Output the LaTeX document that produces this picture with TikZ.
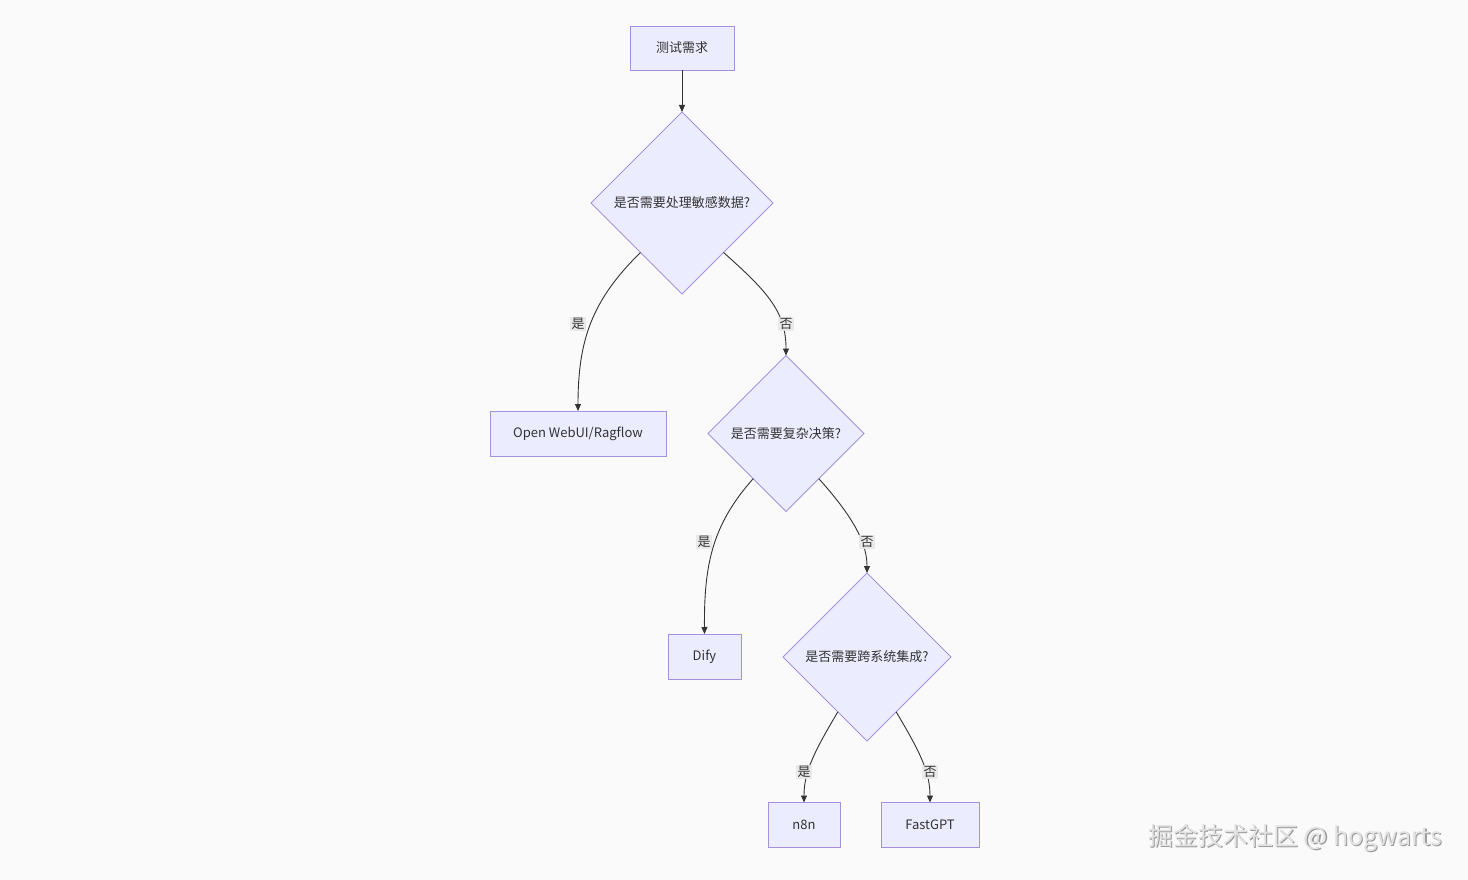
\documentclass[tikz,border=0pt]{standalone}
\usepackage{fontspec}
\setmainfont{Noto Sans CJK SC}
\usetikzlibrary{shapes.geometric,arrows.meta}
\definecolor{bgc}{HTML}{FAFAFA}
\definecolor{nodefill}{HTML}{ECECFF}
\definecolor{nodeline}{HTML}{A592DE}
\definecolor{edgec}{HTML}{333333}
\definecolor{lblbg}{HTML}{E8E8E8}
\definecolor{wmc}{HTML}{E2E2E2}
\definecolor{wmsh}{HTML}{9A9A9A}
\tikzset{
  boxnode/.style={draw=nodeline, fill=nodefill, line width=0.9pt, inner sep=0pt, outer sep=0pt,
    text=edgec, font=\fontsize{13}{15}\selectfont},
  decnode/.style={diamond, aspect=1, draw=nodeline, fill=nodefill, line width=0.9pt, inner sep=0pt,
    outer sep=0pt, text=edgec, font=\fontsize{13}{15}\selectfont},
  edge/.style={draw=edgec, line width=0.9pt, -{Triangle[length=7pt,width=6pt]}},
  lbl/.style={fill=lblbg, fill opacity=0.9, text opacity=1, text=edgec, inner sep=1.2pt,
    font=\fontsize{13}{15}\selectfont}
}
\begin{document}
\begin{tikzpicture}[x=1pt,y=-1pt]
\fill[bgc] (0,0) rectangle (1468,880);
\useasboundingbox (0,0) rectangle (1468,880);

\node[boxnode, minimum width=104pt, minimum height=44pt] (start) at (682,48) {测试需求};
\node[decnode, minimum size=182pt] (d1) at (682,203) {是否需要处理敏感数据?};
\node[boxnode, minimum width=176pt, minimum height=45pt] (open) at (578,433.5) {Open WebUI/Ragflow};
\node[decnode, minimum size=156pt] (d2) at (786,433.5) {是否需要复杂决策?};
\node[boxnode, minimum width=73pt, minimum height=45pt] (dify) at (704.5,656.5) {Dify};
\node[decnode, minimum size=168pt] (d3) at (867,657) {是否需要跨系统集成?};
\node[boxnode, minimum width=72pt, minimum height=45pt] (n8n) at (804,825) {n8n};
\node[boxnode, minimum width=98pt, minimum height=45pt] (fast) at (930,825) {FastGPT};

\draw[edge] (start) -- (d1);
\draw[edge] (d1.-130) .. controls (592,300) and (578,340) .. (open.north);
\draw[edge] (d1.-50) .. controls (768,292) and (786,312) .. (d2.north);
\draw[edge] (d2.-126) .. controls (712,525) and (704,565) .. (dify.north);
\draw[edge] (d2.-54) .. controls (856,520) and (867,545) .. (d3.north);
\draw[edge] (d3.-118) .. controls (814,752) and (804,772) .. (n8n.north);
\draw[edge] (d3.-62) .. controls (920,752) and (930,772) .. (fast.north);

\node[lbl] (l1) at (578,324) {是};
\node[lbl] (l2) at (786,324) {否};
\node[lbl] (l3) at (704,542) {是};
\node[lbl] (l4) at (867,542) {否};
\node[lbl] (l5) at (804,772) {是};
\node[lbl] (l6) at (930,772) {否};

\node[text=wmsh, font=\fontsize{25}{29}\selectfont, inner sep=0pt] (wms) at (1296.2,839.2) {掘金技术社区 @ hogwarts};
\node[text=wmc, font=\fontsize{25}{29}\selectfont, inner sep=0pt] (wm) at (1295,838) {掘金技术社区 @ hogwarts};
\end{tikzpicture}
\end{document}
